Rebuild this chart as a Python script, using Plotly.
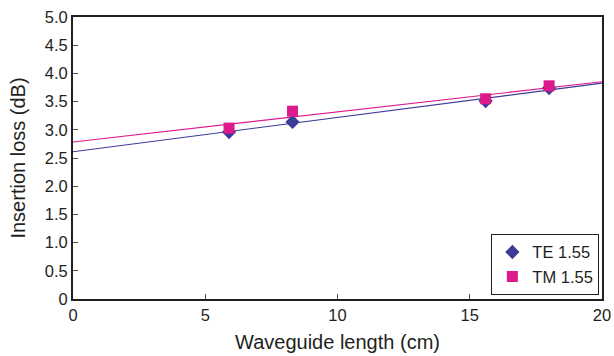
import numpy as np
import plotly.graph_objects as go

te_x = [5.9, 8.3, 15.6, 18.0]
te_y = [2.96, 3.14, 3.51, 3.74]
tm_x = [5.9, 8.3, 15.6, 18.0]
tm_y = [3.03, 3.33, 3.55, 3.78]

x_ticks = [0, 5, 10, 15, 20]
y_ticks = [0, 0.5, 1.0, 1.5, 2.0, 2.5, 3.0, 3.5, 4.0, 4.5, 5.0]
y_tick_text = ["0", "0.5", "1.0", "1.5", "2.0", "2.5", "3.0", "3.5", "4.0", "4.5", "5.0"]

te_color = "#3b3c98"
tm_color = "#dc1a8c"

fit_x = np.array([0, 20])
te_fit = np.polyfit(te_x, te_y, 1)
tm_fit = np.polyfit(tm_x, tm_y, 1)

fig = go.Figure()
fig.add_trace(go.Scatter(x=fit_x, y=np.polyval(te_fit, fit_x), mode="lines",
                         line=dict(color=te_color, width=1.1), showlegend=False, hoverinfo="skip"))
fig.add_trace(go.Scatter(x=fit_x, y=np.polyval(tm_fit, fit_x), mode="lines",
                         line=dict(color=tm_color, width=1.1), showlegend=False, hoverinfo="skip"))
fig.add_trace(go.Scatter(x=te_x, y=te_y, mode="markers", name="TE 1.55",
                         marker=dict(symbol="diamond", size=11, color=te_color)))
fig.add_trace(go.Scatter(x=tm_x, y=tm_y, mode="markers", name="TM 1.55",
                         marker=dict(symbol="square", size=11, color=tm_color)))

axis_font = dict(family="Liberation Sans, Arial, sans-serif", size=16.5, color="#231f20")

fig.update_layout(
    width=614, height=356,
    margin=dict(l=73, r=12, t=17, b=57, autoexpand=False),
    plot_bgcolor="white", paper_bgcolor="white",
    font=axis_font,
    legend=dict(x=0.995, y=0.015, xanchor="right", yanchor="bottom",
                bordercolor="#231f20", borderwidth=1, bgcolor="white",
                font=dict(family="Liberation Sans, Arial, sans-serif", size=16.5, color="#231f20"),
                itemwidth=30, tracegroupgap=0),
    xaxis=dict(range=[0, 20], tickvals=x_ticks, ticks="inside", ticklen=5, tickcolor="#555555",
               showline=True, linecolor="#231f20", linewidth=2, mirror=True, showgrid=False,
               zeroline=False, automargin=False,
               title=dict(text="Waveguide length (cm)", standoff=12)),
    yaxis=dict(range=[0, 5], tickvals=y_ticks, ticktext=y_tick_text, ticks="inside", ticklen=5,
               tickcolor="#555555", showline=True, linecolor="#231f20", linewidth=2, mirror=True,
               showgrid=False, zeroline=False, automargin=False,
               title=dict(text="Insertion loss (dB)", standoff=14)),
)

fig.write_html("out.html")
